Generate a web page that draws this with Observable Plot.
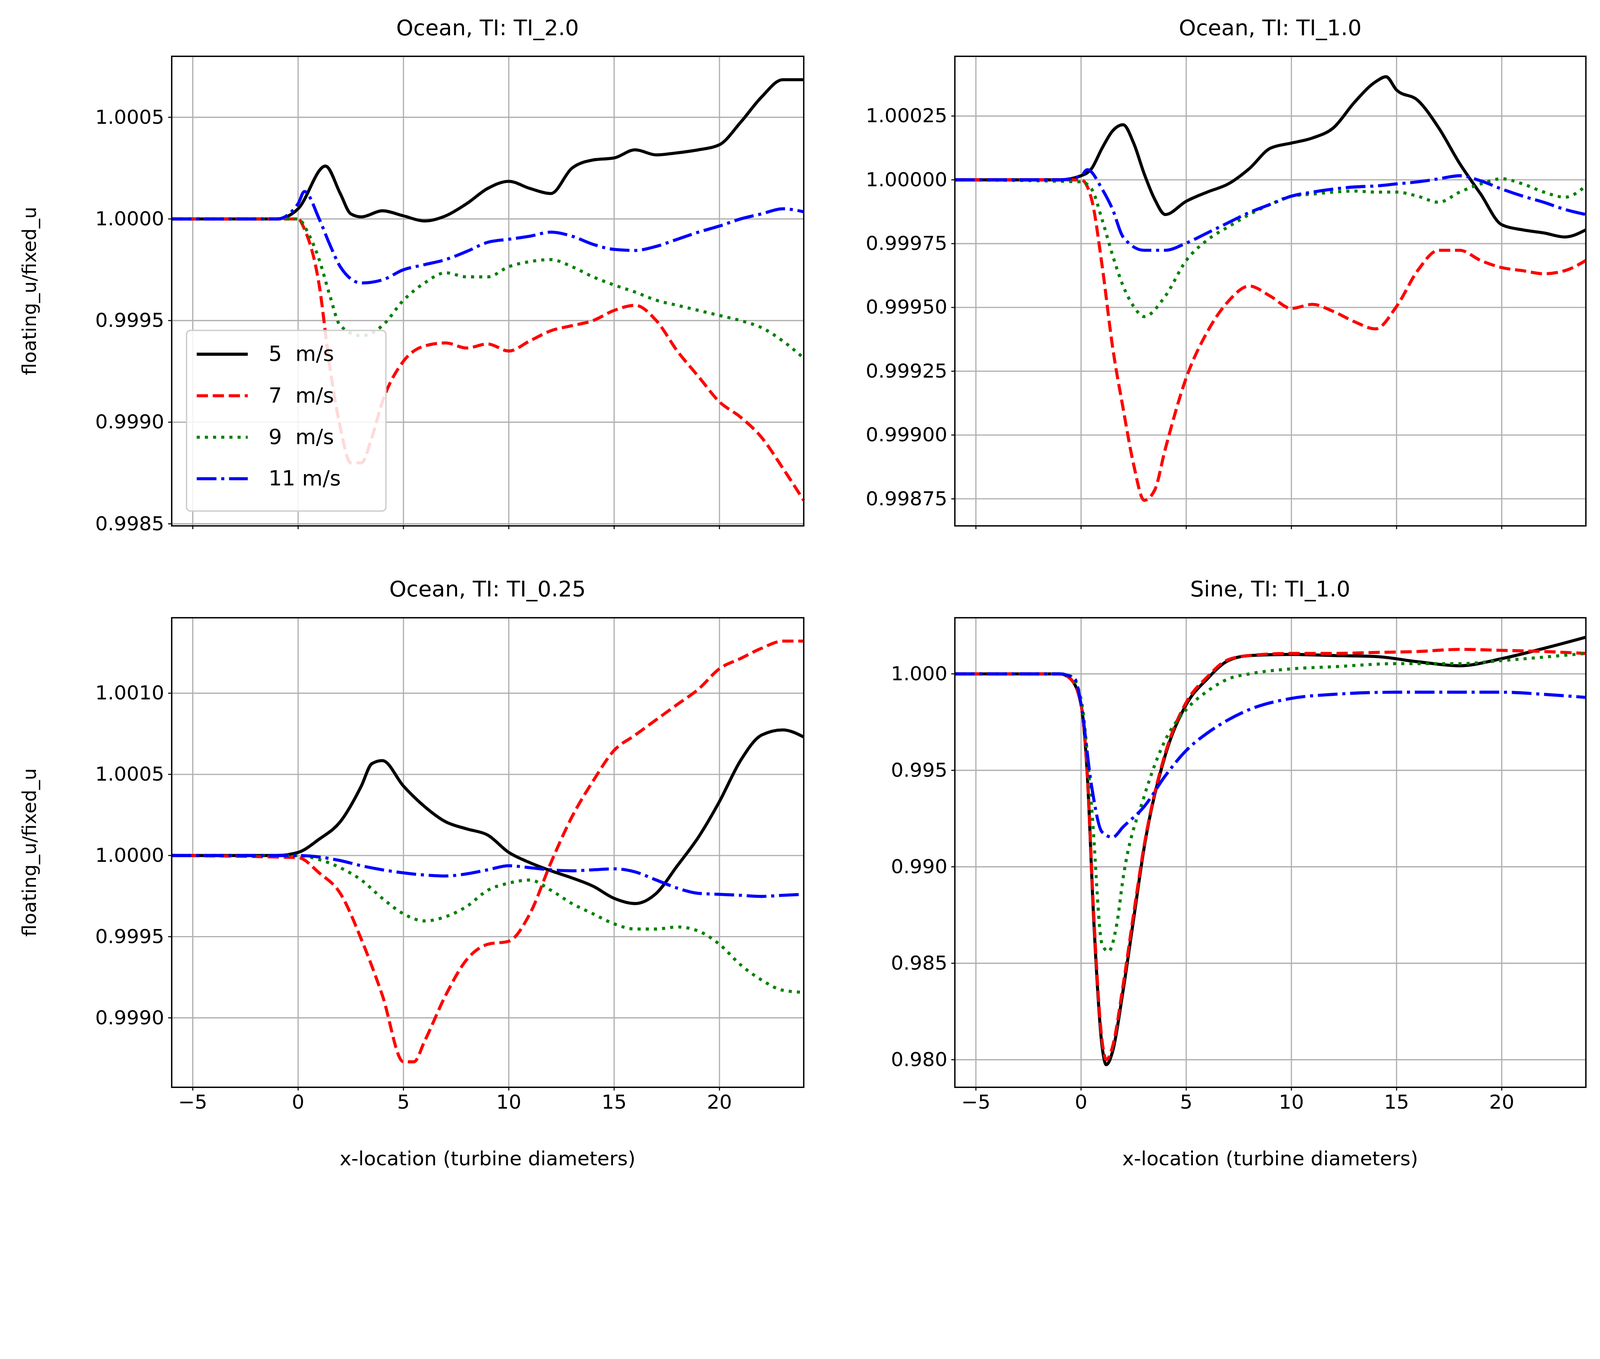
<!DOCTYPE html>
<html><head><meta charset="utf-8">
<script src="https://cdn.jsdelivr.net/npm/d3@7"></script>
<script src="https://cdn.jsdelivr.net/npm/@observablehq/plot@0.6"></script>
<style>
html,body{margin:0;background:#fff;font-family:"DejaVu Sans",sans-serif;overflow:hidden;}
#root{position:relative;width:4701px;height:3480px;background:#fff;transform-origin:0 0;}
.abs{position:absolute;}
.t{position:absolute;font-size:64px;white-space:nowrap;transform:translate(-50%,-50%);}
.yl{position:absolute;font-size:56px;white-space:nowrap;transform:translate(-50%,-50%) rotate(-90deg);}
</style></head><body><div id="root"></div>
<script>
const seriesNames = ["5  m/s","7  m/s","9  m/s","11 m/s"];
const xTicks = [-5,0,5,10,15,20];
// Panel 1: Ocean, TI_2.0
const p1_5_x=[-6,-1,0,1.3,2,2.5,3,4,5,6,7,8,9,10,11,12,13,14,15,16,17,18,19,20,21,22,23,24];
const p1_5_y=[1,1,1.00005,1.00026,1.000125,1.000025,1.00001,1.00004,1.000015,0.99999,1.000015,1.000075,1.00015,1.000185,1.00015,1.000125,1.00025,1.00029,1.0003,1.00034,1.000315,1.000325,1.00034,1.000365,1.000475,1.0006,1.000685,1.000685];
const p1_7_x=[-6,0,0.3,1,1.5,2,2.5,3,3.5,4,5,6,7,8,9,10,11,12,13,14,15,16,17,18,19,20,21,22,23,24];
const p1_7_y=[1,1,0.99995,0.999675,0.999275,0.998975,0.9988,0.9988,0.998925,0.9991,0.9993,0.999375,0.99939,0.999365,0.999385,0.99935,0.9994,0.99945,0.999475,0.9995,0.99955,0.999575,0.9995,0.99935,0.999225,0.9991,0.999025,0.998925,0.998775,0.998615];
const p1_9_x=[-6,0,0.5,1,1.5,2,3,4,5,6,7,8,9,10,11,12,13,14,15,16,17,18,19,20,21,22,23,24];
const p1_9_y=[1,1,0.999925,0.9998,0.999625,0.999475,0.999425,0.999475,0.9996,0.999685,0.999735,0.999715,0.999715,0.999765,0.99979,0.9998,0.999765,0.999715,0.999675,0.99964,0.9996,0.999575,0.99955,0.999525,0.9995,0.999465,0.9994,0.999315];
const p1_11_x=[-6,-1,0,0.3,1,1.5,2,3,4,5,6,7,8,9,10,11,12,13,14,15,16,17,18,19,20,21,22,23,24];
const p1_11_y=[1,1,1.000075,1.000135,1,0.999875,0.999765,0.999685,0.9997,0.99975,0.999775,0.9998,0.99984,0.999885,0.9999,0.999915,0.999935,0.999915,0.999875,0.99985,0.999845,0.999865,0.9999,0.999935,0.999965,1,1.000025,1.00005,1.000035];
// Panel 2: Ocean, TI_1.0
const p2_5_x=[-6,-1,0,0.5,1,1.5,2,2.5,3,3.5,4,5,6,7,8,9,10,11,12,13,14,14.5,15,16,17,18,19,20,21,22,23,24];
const p2_5_y=[1,1,1.000016,1.000044,1.000124,1.000192,1.000216,1.000144,1.000024,0.999924,0.999864,0.999916,0.999952,0.999984,1.000044,1.000124,1.000144,1.000164,1.000204,1.000304,1.000384,1.000404,1.000352,1.000312,1.000204,1.000064,0.999944,0.999824,0.999804,0.999792,0.999776,0.999804];
const p2_7_x=[-6,0,0.5,1,1.5,2,2.5,3,3.5,4,5,6,7,8,9,10,11,12,13,14,15,16,17,18,19,20,21,22,23,24];
const p2_7_y=[1,1,0.999924,0.999664,0.999344,0.999104,0.998884,0.998744,0.998784,0.998944,0.999224,0.999404,0.999524,0.999584,0.999544,0.999496,0.999512,0.999484,0.999444,0.999416,0.999504,0.999644,0.999724,0.999724,0.999684,0.999656,0.999644,0.999632,0.999644,0.999684];
const p2_9_x=[-6,0,0.5,1,1.5,2,2.5,3,4,5,6,7,8,9,10,11,12,13,14,15,16,17,18,19,20,21,22,23,24];
const p2_9_y=[1,0.999992,0.999964,0.999844,0.999704,0.999584,0.999504,0.999464,0.999544,0.999684,0.999764,0.999816,0.999864,0.999904,0.999936,0.999944,0.999952,0.999956,0.999952,0.999952,0.999936,0.999912,0.999952,0.999984,1.000004,0.999984,0.999952,0.999932,0.999976];
const p2_11_x=[-6,-1,0,0.3,1,1.5,2,3,4,5,6,7,8,9,10,11,12,13,14,15,16,17,18,19,20,21,22,23,24];
const p2_11_y=[1,1,1.000016,1.00004,0.999964,0.999884,0.999776,0.999724,0.999724,0.999752,0.999792,0.999832,0.999872,0.999904,0.999936,0.999952,0.999964,0.999972,0.999976,0.999984,0.999992,1.000004,1.000016,0.999996,0.999964,0.999936,0.999912,0.999884,0.999864];
// Panel 3: Ocean, TI_0.25
const p3_5_x=[-6,-1,0,1,2,3,3.5,4,5,6,7,8,9,10,11,12,13,14,15,16,17,18,19,20,21,22,23,24];
const p3_5_y=[1,1,1.000019,1.000101,1.000208,1.000428,1.000566,1.000585,1.000428,1.000302,1.000208,1.000164,1.000126,1.000019,0.999956,0.999906,0.999862,0.999811,0.999736,0.999704,0.999767,0.999937,1.000113,1.000333,1.000585,1.000742,1.000774,1.00073];
const p3_7_x=[-6,0,1,2,3,4,5,5.5,6,7,8,9,10,11,12,13,14,15,16,17,18,19,20,21,22,23,24];
const p3_7_y=[1,0.999987,0.999893,0.999767,0.999484,0.999138,0.998729,0.998729,0.998855,0.999138,0.999358,0.999453,0.999472,0.999641,0.999956,1.000239,1.000459,1.000648,1.000742,1.000837,1.000931,1.001025,1.001151,1.001214,1.001277,1.001321,1.001321];
const p3_9_x=[-6,0,1,2,3,4,5,6,7,8,9,10,11,12,13,14,15,16,17,18,19,20,21,22,23,24];
const p3_9_y=[1,1,0.999975,0.999925,0.999849,0.999736,0.999641,0.999597,0.999623,0.999686,0.999786,0.99983,0.999849,0.999786,0.999704,0.999641,0.999579,0.999547,0.999547,0.99956,0.999535,0.999453,0.999327,0.999233,0.99917,0.999157];
const p3_11_x=[-6,0,2,3,4,5,6,7,8,9,10,11,12,13,14,15,16,17,18,19,20,21,22,23,24];
const p3_11_y=[1,1,0.999969,0.999937,0.999912,0.999893,0.99988,0.999874,0.999887,0.999912,0.999937,0.999925,0.999912,0.999906,0.999912,0.999918,0.999899,0.999849,0.999799,0.999767,0.999761,0.999755,0.999748,0.999755,0.999761];
// Panel 4: Sine, TI_1.0
const p4_5_x=[-6,-1,-0.5,0,0.3,0.6,1,1.2,1.5,2,2.5,3,4,5,6,7,8,10,12,14,16,18,20,22,24];
const p4_5_y=[1,1,0.99974,0.99841,0.99471,0.9873,0.98069,0.97974,0.98043,0.9836,0.9873,0.9910,0.99577,0.99841,0.99974,1.00069,1.00095,1.00101,1.00095,1.0009,1.00063,1.00042,1.00079,1.00132,1.0019];
const p4_7_x=[-6,-1,-0.5,0,0.3,0.6,1,1.2,1.5,2,2.5,3,4,5,6,7,8,10,12,14,16,18,20,22,24];
const p4_7_y=[1,1,0.99974,0.99841,0.99471,0.98757,0.98096,0.98,0.98069,0.98387,0.98757,0.99111,0.99587,0.99852,0.99984,1.00074,1.00095,1.00106,1.00106,1.00111,1.00116,1.00127,1.00122,1.00116,1.00106];
const p4_9_x=[-6,-1,-0.5,0,0.5,1,1.3,1.7,2,3,4,5,6,7,8,10,12,15,18,20,24];
const p4_9_y=[1,1,0.99989,0.99868,0.99312,0.98598,0.98561,0.98704,0.98942,0.99365,0.99656,0.99815,0.9991,0.99974,1,1.00026,1.00037,1.00053,1.00053,1.00069,1.00106];
const p4_11_x=[-6,-1,-0.3,0,0.5,1,1.5,2,3,4,5,6,7,8,10,12,15,18,20,22,24];
const p4_11_y=[1,1,0.99974,0.99841,0.99418,0.9918,0.99153,0.99207,0.99312,0.99471,0.99603,0.99693,0.99762,0.99815,0.99873,0.99894,0.99905,0.99905,0.99905,0.99894,0.99878];

const titles=["Ocean,  TI: TI_2.0","Ocean,  TI: TI_1.0","Ocean,  TI: TI_0.25","Sine,  TI: TI_1.0"];
const yTicks=[[0.9985,0.999,0.9995,1,1.0005],[0.99875,0.999,0.99925,0.9995,0.99975,1,1.00025],[0.999,0.9995,1,1.0005,1.001],[0.98,0.985,0.99,0.995,1]];
const yDec=[4,5,4,3];
const yDom=[[0.99849,1.0008],[0.998644,1.000484],[0.998572,1.001465],[0.97857,1.00291]];

const styles=[
 {stroke:"black"},
 {stroke:"red",strokeDasharray:"33,14"},
 {stroke:"green",strokeDasharray:"9,15"},
 {stroke:"blue",strokeDasharray:"58,14,9,14"}
];
const panels=[
 [[p1_5_x,p1_5_y],[p1_7_x,p1_7_y],[p1_9_x,p1_9_y],[p1_11_x,p1_11_y]],
 [[p2_5_x,p2_5_y],[p2_7_x,p2_7_y],[p2_9_x,p2_9_y],[p2_11_x,p2_11_y]],
 [[p3_5_x,p3_5_y],[p3_7_x,p3_7_y],[p3_9_x,p3_9_y],[p3_11_x,p3_11_y]],
 [[p4_5_x,p4_5_y],[p4_7_x,p4_7_y],[p4_9_x,p4_9_y],[p4_11_x,p4_11_y]]
];
const geo=[
 {left:0,top:0,width:2400,height:1700,ml:504,mr:39,mt:165,mb:155},
 {left:2400,top:0,width:2301,height:1700,ml:405,mr:42,mt:165,mb:155},
 {left:0,top:1700,width:2400,height:1780,ml:504,mr:39,mt:115,mb:285},
 {left:2400,top:1700,width:2301,height:1780,ml:405,mr:42,mt:115,mb:285}
];
const root=document.getElementById("root");
function fit(){
  const s=Math.min(window.innerWidth/4701, window.innerHeight/3480) || 1;
  root.style.transform=`scale(${s})`;
}
fit(); window.addEventListener("resize",fit);
const fmtMinus=s=>s.replace("-","\u2212");
panels.forEach((ser,i)=>{
  const g=geo[i];
  const bottom=i>=2;
  const marks=[
    Plot.gridX(xTicks,{stroke:"#b0b0b0",strokeOpacity:1,strokeWidth:3.5}),
    Plot.gridY(yTicks[i],{stroke:"#b0b0b0",strokeOpacity:1,strokeWidth:3.5}),
    Plot.axisX(xTicks,{tickSize:10,tickPadding:12,strokeWidth:3,fontSize:58,
      tickFormat:bottom?(d=>fmtMinus(String(d))):(()=>""),label:null}),
    Plot.axisY(yTicks[i],{tickSize:10,tickPadding:12,strokeWidth:3,fontSize:58,
      tickFormat:d=>d.toFixed(yDec[i]),label:null}),
  ];
  ser.forEach(([xs,ys],k)=>{
    const data=xs.map((x,j)=>({x,y:ys[j]}));
    marks.push(Plot.line(data,{x:"x",y:"y",curve:"monotone-x",strokeWidth:9,strokeLinecap:"butt",...styles[k]}));
  });
  marks.push(Plot.frame({stroke:"black",strokeWidth:4}));
  const svg=Plot.plot({
    width:g.width,height:g.height,marginLeft:g.ml,marginRight:g.mr,marginTop:g.mt,marginBottom:g.mb,
    x:{domain:[-6,24]},y:{domain:yDom[i]},
    style:{fontFamily:"DejaVu Sans",fontSize:"58px",background:"white",color:"black",maxWidth:"none"},
    marks
  });
  svg.classList.add("abs");
  svg.style.left=g.left+"px";svg.style.top=g.top+"px";
  root.appendChild(svg);
  const cx=g.left+g.ml+(g.width-g.ml-g.mr)/2;
  const t=document.createElement("div");t.className="t";t.textContent=titles[i];
  t.style.left=cx+"px";t.style.top=(g.top+g.mt-84)+"px";root.appendChild(t);
  if(bottom){
    const xl=document.createElement("div");xl.className="t";xl.style.fontSize="58px";
    xl.textContent="x-location (turbine diameters)";
    xl.style.left=cx+"px";xl.style.top="3405px";root.appendChild(xl);
  }
  if(i%2===0){
    const yl=document.createElement("div");yl.className="yl";yl.textContent="floating_u/fixed_u";
    yl.style.left="86px";yl.style.top=(g.top+g.mt+(g.height-g.mt-g.mb)/2)+"px";root.appendChild(yl);
  }
});
const lg=document.createElementNS("http://www.w3.org/2000/svg","svg");
lg.setAttribute("width","590");lg.setAttribute("height","535");
lg.classList.add("abs");lg.style.left="546px";lg.style.top="969px";
let html='<rect x="2" y="2" width="586" height="531" rx="12" fill="white" fill-opacity="0.85" stroke="#cccccc" stroke-width="4"/>';
seriesNames.forEach((n,k)=>{
  const y=72+k*122;const s=styles[k];
  html+=`<line x1="32" x2="182" y1="${y}" y2="${y}" stroke="${s.stroke}" stroke-width="9" ${s.strokeDasharray?`stroke-dasharray="${s.strokeDasharray}"`:""}/>`;
  html+=`<text x="243" y="${y+20}" font-family="DejaVu Sans" font-size="62" xml:space="preserve">${n}</text>`;
});
lg.innerHTML=html;root.appendChild(lg);
</script></body></html>
